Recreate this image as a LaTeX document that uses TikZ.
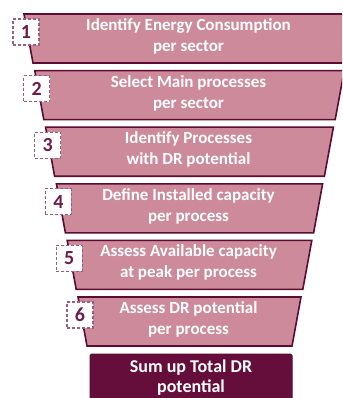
\documentclass[tikz,border=0pt]{standalone}
\usepackage{fontspec}
\setmainfont{Carlito}
\definecolor{stagefill}{HTML}{CD8A9A}
\definecolor{stageedge}{HTML}{5C0B32}
\definecolor{sumfill}{HTML}{660E3B}
\definecolor{numink}{HTML}{6E1D4A}
\definecolor{numedge}{HTML}{9E5C7E}
\tikzset{
  stagebox/.style={fill=stagefill, draw=stageedge, line width=1.6pt, line join=miter},
  stagetext/.style={text=white, font=\fontsize{17}{20}\selectfont\bfseries, inner sep=0pt, anchor=base},
  numbox/.style={draw=numedge, fill=white, dashed, dash pattern=on 3pt off 2pt, line width=1.2pt,
    minimum width=26pt, minimum height=26pt, inner sep=0pt, text=numink,
    font=\fontsize{20}{20}\selectfont\bfseries},
  sumbox/.style={fill=sumfill, draw=stageedge, line width=1pt, rounded corners=1.5pt},
  sumtext/.style={text=white, font=\fontsize{18}{21}\selectfont\bfseries, inner sep=0pt, anchor=base}
}
\begin{document}
\begin{tikzpicture}[x=1pt,y=-1pt]
\useasboundingbox (0,0) rectangle (342,398);
\clip (0,0) rectangle (342,398);
% funnel stages, each one narrower than the one above
\foreach \i/\first/\second in {
  0/{Identify Energy Consumption}/{per sector},
  1/{Select Main processes}/{per sector},
  2/{Identify Processes}/{with DR potential},
  3/{Define Installed capacity}/{per process},
  4/{Assess Available capacity}/{at peak per process},
  5/{Assess DR potential}/{per process}} {
  \pgfmathsetmacro\tl{24+10.8*\i}
  \pgfmathsetmacro\tp{14+56.6*\i}
  \pgfmathtruncatemacro\n{\i+1}
  \draw[stagebox] (\tl,\tp) -- (379-\tl,\tp) -- (370-\tl,\tp+49) -- (\tl+9,\tp+49) -- cycle;
  \node[stagetext] (stage\n a) at (188.5,\tp+16.5) {\first};
  \node[stagetext] (stage\n b) at (188.5,\tp+37.5) {\second};
  \node[numbox] (num\n) at (\tl+2,\tp+18) {\n};
}
% final summary block
\draw[sumbox] (90,354) rectangle (292,404);
\node[sumtext] (suma) at (191,372) {Sum up Total DR};
\node[sumtext] (sumb) at (191,392) {potential};
\end{tikzpicture}
\end{document}
